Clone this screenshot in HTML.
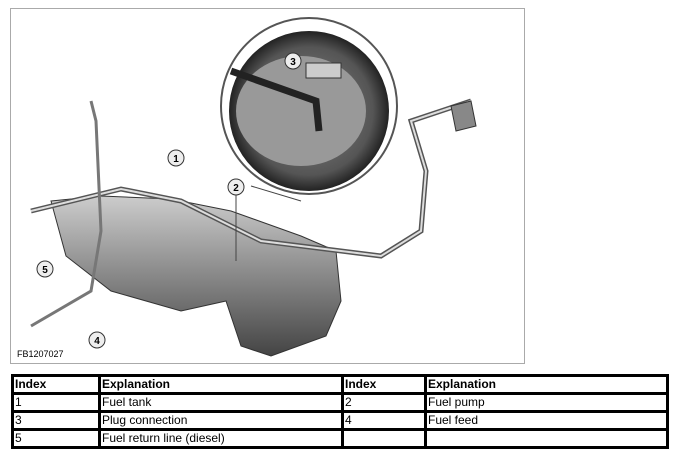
<!DOCTYPE html>
<html><head><style>
body{margin:0;background:#fff;width:678px;height:460px;position:relative;overflow:hidden;font-family:"Liberation Sans",sans-serif}
#box{position:absolute;left:10px;top:8px;width:513px;height:354px;border:1px solid #aaa;background:#fff}
table{position:absolute;left:11px;top:374px;width:658px;border-collapse:collapse;font-size:12px}
td{border:3px solid #000;height:15px;padding:0 1px;line-height:15px}
</style></head><body>
<div id="box">
<svg width="513" height="354" viewBox="10 8 513 354">
<defs>
<linearGradient id="g" x1="0" y1="0" x2="0" y2="1"><stop offset="0" stop-color="#ccc"/><stop offset=".5" stop-color="#888"/><stop offset="1" stop-color="#444"/></linearGradient>
<radialGradient id="c" cx=".5" cy=".5" r=".5"><stop offset="0" stop-color="#888"/><stop offset=".8" stop-color="#555"/><stop offset="1" stop-color="#222"/></radialGradient>
</defs>
<path d="M50 200 L100 195 L170 198 L230 210 L300 235 L335 250 L340 300 L325 335 L270 355 L240 345 L225 300 L180 310 L110 290 L65 255 Z" fill="url(#g)" stroke="#333"/>
<path d="M30 210 L120 188 L180 200 L260 240 L380 255 L420 230 L425 170 L410 120 L440 110 L470 100" fill="none" stroke="#555" stroke-width="5"/>
<path d="M30 210 L120 188 L180 200 L260 240 L380 255 L420 230 L425 170 L410 120 L440 110 L470 100" fill="none" stroke="#ddd" stroke-width="2"/>
<path d="M30 325 L90 290 L100 230 L95 120 L90 100" fill="none" stroke="#777" stroke-width="3"/>
<path d="M450 105 L470 100 L475 125 L455 130 Z" fill="#888" stroke="#333"/>
<line x1="235" y1="185" x2="235" y2="260" stroke="#444"/>
<line x1="250" y1="185" x2="300" y2="200" stroke="#444"/>
<circle cx="308" cy="105" r="88" fill="#fff" stroke="#555" stroke-width="2"/>
<circle cx="308" cy="110" r="80" fill="url(#c)"/>
<ellipse cx="300" cy="110" rx="65" ry="55" fill="#999"/>
<path d="M230 70 L315 100 L318 130" fill="none" stroke="#222" stroke-width="7"/>
<rect x="305" y="62" width="35" height="15" fill="#ccc" stroke="#333"/>
<g font-size="10" font-weight="bold" text-anchor="middle">
<circle cx="175" cy="157" r="8" fill="#eee" stroke="#333"/><text x="175" y="161">1</text>
<circle cx="235" cy="186" r="8" fill="#eee" stroke="#333"/><text x="235" y="190">2</text>
<circle cx="292" cy="60" r="8" fill="#eee" stroke="#333"/><text x="292" y="64">3</text>
<circle cx="96" cy="339" r="8" fill="#eee" stroke="#333"/><text x="96" y="343">4</text>
<circle cx="44" cy="268" r="8" fill="#eee" stroke="#333"/><text x="44" y="272">5</text>
</g>
<text x="16" y="356" font-size="9">FB1207027</text>
</svg>
</div>
<table>
<tr><td style="width:82px"><b>Index</b></td><td style="width:238px"><b>Explanation</b></td><td style="width:78px"><b>Index</b></td><td><b>Explanation</b></td></tr>
<tr><td>1</td><td>Fuel tank</td><td>2</td><td>Fuel pump</td></tr>
<tr><td>3</td><td>Plug connection</td><td>4</td><td>Fuel feed</td></tr>
<tr><td>5</td><td>Fuel return line (diesel)</td><td></td><td></td></tr>
</table>
</body></html>
